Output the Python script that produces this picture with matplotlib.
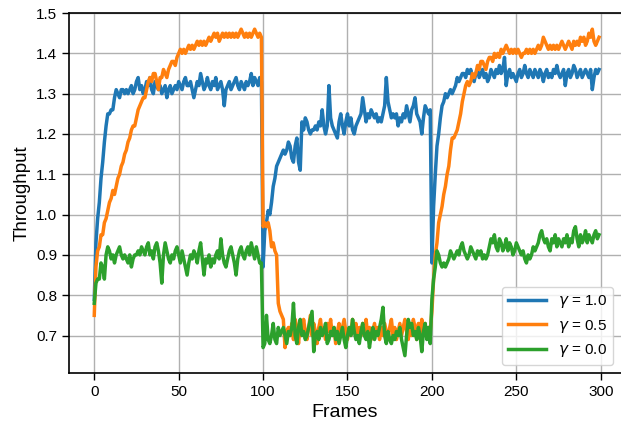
import matplotlib
matplotlib.use("Agg")
import matplotlib.pyplot as plt
import numpy as np

plt.rcParams['font.family'] = ['Liberation Sans', 'DejaVu Sans']
plt.rcParams['mathtext.fontset'] = 'dejavusans'

# throughput per frame
blue = [
    0.79, 0.93, 0.99, 1.03, 1.09, 1.13, 1.18, 1.22, 1.25, 1.25,
    1.26, 1.26, 1.29, 1.31, 1.30, 1.29, 1.31, 1.31, 1.30, 1.31,
    1.30, 1.31, 1.32, 1.30, 1.31, 1.33, 1.34, 1.31, 1.32, 1.30,
    1.31, 1.33, 1.32, 1.34, 1.31, 1.30, 1.33, 1.32, 1.31, 1.32,
    1.30, 1.31, 1.32, 1.29, 1.31, 1.32, 1.30, 1.31, 1.32, 1.31,
    1.33, 1.32, 1.31, 1.33, 1.34, 1.32, 1.32, 1.33, 1.31, 1.29,
    1.31, 1.33, 1.32, 1.35, 1.33, 1.31, 1.32, 1.34, 1.32, 1.31,
    1.33, 1.32, 1.34, 1.31, 1.32, 1.33, 1.31, 1.27, 1.31, 1.32,
    1.33, 1.31, 1.32, 1.33, 1.34, 1.32, 1.31, 1.33, 1.32, 1.31,
    1.33, 1.32, 1.33, 1.35, 1.32, 1.34, 1.33, 1.32, 1.34, 1.33,
    0.87, 0.96, 0.98, 1.01, 1.00, 1.03, 1.07, 1.09, 1.12, 1.13,
    1.14, 1.15, 1.16, 1.15, 1.16, 1.18, 1.17, 1.14, 1.13, 1.17,
    1.19, 1.13, 1.11, 1.23, 1.21, 1.24, 1.23, 1.21, 1.20, 1.21,
    1.21, 1.22, 1.21, 1.23, 1.22, 1.26, 1.22, 1.20, 1.22, 1.32,
    1.24, 1.22, 1.21, 1.20, 1.19, 1.23, 1.25, 1.22, 1.20, 1.23,
    1.25, 1.22, 1.24, 1.21, 1.20, 1.22, 1.23, 1.24, 1.25, 1.29,
    1.26, 1.23, 1.25, 1.24, 1.26, 1.25, 1.24, 1.25, 1.23, 1.24,
    1.23, 1.25, 1.27, 1.34, 1.28, 1.26, 1.24, 1.25, 1.24, 1.25,
    1.22, 1.24, 1.23, 1.25, 1.24, 1.27, 1.25, 1.23, 1.26, 1.27,
    1.29, 1.25, 1.24, 1.23, 1.20, 1.24, 1.27, 1.26, 1.25, 1.26,
    0.88, 1.02, 1.10, 1.17, 1.20, 1.24, 1.27, 1.28, 1.30, 1.29,
    1.30, 1.31, 1.30, 1.31, 1.32, 1.34, 1.33, 1.34, 1.35, 1.35,
    1.34, 1.36, 1.35, 1.36, 1.34, 1.33, 1.35, 1.36, 1.34, 1.35,
    1.36, 1.34, 1.35, 1.33, 1.34, 1.36, 1.35, 1.34, 1.36, 1.35,
    1.37, 1.35, 1.36, 1.39, 1.32, 1.35, 1.36, 1.34, 1.35, 1.34,
    1.33, 1.35, 1.36, 1.34, 1.35, 1.37, 1.35, 1.34, 1.36, 1.35,
    1.34, 1.36, 1.35, 1.34, 1.36, 1.35, 1.33, 1.35, 1.36, 1.34,
    1.35, 1.34, 1.36, 1.35, 1.37, 1.35, 1.34, 1.35, 1.36, 1.32,
    1.35, 1.36, 1.34, 1.35, 1.37, 1.36, 1.34, 1.35, 1.36, 1.34,
    1.35, 1.36, 1.35, 1.34, 1.36, 1.31, 1.34, 1.36, 1.35, 1.36,
]

orange = [
    0.75, 0.87, 0.91, 0.92, 0.95, 0.95, 0.98, 0.99, 1.01, 1.03,
    1.04, 1.06, 1.05, 1.07, 1.09, 1.10, 1.12, 1.13, 1.15, 1.16,
    1.18, 1.19, 1.21, 1.22, 1.22, 1.24, 1.26, 1.27, 1.28, 1.29,
    1.29, 1.31, 1.33, 1.34, 1.33, 1.35, 1.35, 1.33, 1.31, 1.34,
    1.34, 1.36, 1.35, 1.34, 1.36, 1.37, 1.38, 1.38, 1.37, 1.39,
    1.40, 1.41, 1.40, 1.41, 1.40, 1.41, 1.42, 1.41, 1.42, 1.41,
    1.42, 1.43, 1.42, 1.43, 1.42, 1.43, 1.42, 1.43, 1.44, 1.43,
    1.44, 1.45, 1.44, 1.45, 1.43, 1.44, 1.45, 1.44, 1.45, 1.44,
    1.45, 1.44, 1.45, 1.44, 1.45, 1.44, 1.45, 1.46, 1.45, 1.44,
    1.45, 1.44, 1.45, 1.44, 1.45, 1.46, 1.45, 1.44, 1.45, 1.44,
    0.97, 0.98, 0.97, 0.98, 0.96, 0.92, 0.93, 0.91, 0.90, 0.78,
    0.76, 0.75, 0.74, 0.67, 0.71, 0.72, 0.70, 0.73, 0.69, 0.74,
    0.72, 0.68, 0.73, 0.70, 0.74, 0.71, 0.69, 0.72, 0.75, 0.70,
    0.73, 0.71, 0.68, 0.72, 0.74, 0.70, 0.72, 0.69, 0.73, 0.71,
    0.74, 0.70, 0.72, 0.68, 0.71, 0.73, 0.70, 0.72, 0.74, 0.71,
    0.69, 0.72, 0.70, 0.74, 0.71, 0.73, 0.69, 0.72, 0.70, 0.73,
    0.71, 0.74, 0.70, 0.72, 0.69, 0.71, 0.73, 0.70, 0.72, 0.69,
    0.72, 0.70, 0.73, 0.71, 0.69, 0.72, 0.74, 0.70, 0.72, 0.69,
    0.71, 0.73, 0.70, 0.72, 0.74, 0.71, 0.69, 0.73, 0.70, 0.74,
    0.72, 0.69, 0.73, 0.70, 0.74, 0.71, 0.73, 0.70, 0.72, 0.71,
    0.76, 0.84, 0.90, 0.93, 0.98, 1.00, 1.02, 1.05, 1.07, 1.10,
    1.12, 1.16, 1.19, 1.19, 1.20, 1.21, 1.23, 1.25, 1.28, 1.30,
    1.32, 1.33, 1.32, 1.33, 1.35, 1.34, 1.35, 1.37, 1.36, 1.38,
    1.38, 1.37, 1.36, 1.38, 1.39, 1.39, 1.38, 1.40, 1.39, 1.40,
    1.39, 1.41, 1.40, 1.41, 1.42, 1.41, 1.40, 1.41, 1.40, 1.41,
    1.40, 1.41, 1.40, 1.39, 1.40, 1.40, 1.41, 1.40, 1.41, 1.40,
    1.41, 1.40, 1.41, 1.42, 1.41, 1.42, 1.44, 1.43, 1.42, 1.41,
    1.42, 1.41, 1.42, 1.41, 1.42, 1.41, 1.42, 1.43, 1.42, 1.41,
    1.42, 1.43, 1.42, 1.41, 1.43, 1.42, 1.43, 1.42, 1.44, 1.43,
    1.44, 1.42, 1.43, 1.45, 1.44, 1.46, 1.43, 1.42, 1.43, 1.44,
]

green = [
    0.78, 0.83, 0.84, 0.84, 0.88, 0.87, 0.84, 0.90, 0.92, 0.91,
    0.89, 0.90, 0.88, 0.90, 0.91, 0.92, 0.90, 0.89, 0.90, 0.89,
    0.88, 0.90, 0.87, 0.89, 0.90, 0.90, 0.91, 0.90, 0.92, 0.91,
    0.90, 0.92, 0.93, 0.90, 0.91, 0.89, 0.92, 0.93, 0.91, 0.88,
    0.83, 0.90, 0.93, 0.91, 0.89, 0.88, 0.90, 0.89, 0.91, 0.92,
    0.90, 0.88, 0.91, 0.89, 0.87, 0.85, 0.88, 0.90, 0.89, 0.91,
    0.90, 0.88, 0.91, 0.93, 0.89, 0.85, 0.89, 0.88, 0.90, 0.87,
    0.89, 0.88, 0.90, 0.91, 0.89, 0.94, 0.90, 0.88, 0.87, 0.89,
    0.91, 0.92, 0.90, 0.88, 0.85, 0.89, 0.91, 0.92, 0.90, 0.89,
    0.91, 0.92, 0.90, 0.93, 0.91, 0.89, 0.92, 0.90, 0.88, 0.88,
    0.67, 0.68, 0.75, 0.69, 0.68, 0.70, 0.73, 0.69, 0.68, 0.72,
    0.70, 0.71, 0.72, 0.70, 0.68, 0.71, 0.70, 0.72, 0.78, 0.70,
    0.68, 0.72, 0.74, 0.70, 0.71, 0.69, 0.70, 0.72, 0.74, 0.76,
    0.66, 0.70, 0.71, 0.69, 0.72, 0.70, 0.71, 0.73, 0.68, 0.69,
    0.71, 0.70, 0.72, 0.69, 0.71, 0.68, 0.70, 0.72, 0.69, 0.67,
    0.70, 0.72, 0.70, 0.74, 0.71, 0.69, 0.70, 0.68, 0.71, 0.73,
    0.70, 0.69, 0.71, 0.67, 0.70, 0.72, 0.69, 0.71, 0.70, 0.72,
    0.74, 0.77, 0.70, 0.68, 0.71, 0.69, 0.68, 0.70, 0.69, 0.71,
    0.70, 0.72, 0.69, 0.67, 0.65, 0.70, 0.74, 0.72, 0.73, 0.70,
    0.71, 0.69, 0.72, 0.70, 0.66, 0.71, 0.73, 0.69, 0.72, 0.68,
    0.79, 0.84, 0.87, 0.91, 0.90, 0.88, 0.87, 0.88, 0.87, 0.88,
    0.89, 0.91, 0.90, 0.89, 0.90, 0.91, 0.90, 0.92, 0.93, 0.91,
    0.90, 0.89, 0.90, 0.92, 0.91, 0.90, 0.89, 0.91, 0.90, 0.91,
    0.89, 0.90, 0.89, 0.90, 0.92, 0.94, 0.93, 0.95, 0.92, 0.91,
    0.94, 0.93, 0.91, 0.92, 0.94, 0.91, 0.93, 0.92, 0.90, 0.91,
    0.93, 0.92, 0.91, 0.90, 0.91, 0.89, 0.88, 0.90, 0.89, 0.90,
    0.92, 0.91, 0.92, 0.93, 0.95, 0.96, 0.94, 0.93, 0.94, 0.92,
    0.91, 0.94, 0.93, 0.95, 0.92, 0.94, 0.93, 0.92, 0.94, 0.93,
    0.95, 0.92, 0.94, 0.93, 0.96, 0.97, 0.94, 0.92, 0.95, 0.93,
    0.94, 0.96, 0.93, 0.95, 0.94, 0.93, 0.95, 0.96, 0.94, 0.95,
]

labels = [r'$\gamma$ = 1.0', r'$\gamma$ = 0.5', r'$\gamma$ = 0.0']
colors = ['#1f77b4', '#ff7f0e', '#2ca02c']

frames = np.arange(len(blue))

fig = plt.figure(figsize=(6.21, 4.28), dpi=100)
ax = fig.add_axes([0.111, 0.1285, 0.889, 0.841])

for y, lab, c in zip([blue, orange, green], labels, colors):
    ax.plot(frames, y, color=c, lw=2.5, label=lab)

ax.set_xlim(-15, 312)
ax.set_ylim(0.607, 1.5)
ax.set_xticks([0, 50, 100, 150, 200, 250, 300])
ax.set_yticks([0.7, 0.8, 0.9, 1.0, 1.1, 1.2, 1.3, 1.4, 1.5])
ax.grid(True, color='#b0b0b0', lw=1)
ax.spines['right'].set_visible(False)
for s in ['left', 'bottom', 'top']:
    ax.spines[s].set_linewidth(1.2)
ax.tick_params(labelsize=11, length=5, width=1)

ax.set_xlabel('Frames', fontsize=14)
ax.set_ylabel('Throughput', fontsize=13.5)
ax.legend(loc='lower right', fontsize=11, handlelength=2.5, framealpha=0.8)

fig.savefig('out.png', dpi=100)
